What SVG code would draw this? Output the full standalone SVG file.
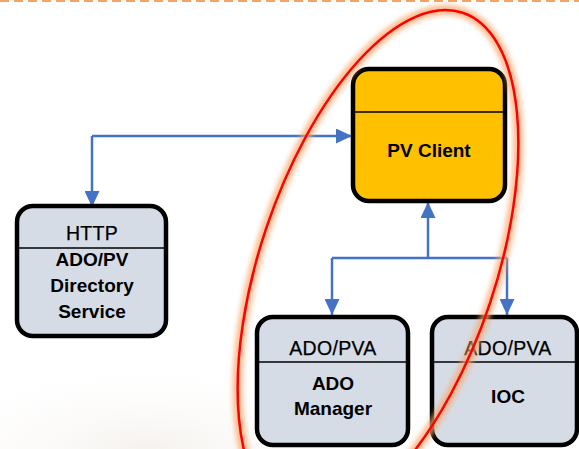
<svg xmlns="http://www.w3.org/2000/svg" width="579" height="449" viewBox="0 0 579 449">
  <style>
    .box { stroke: #000; stroke-width: 4.5; }
    .gray { fill: #D6DCE5; }
    .gold { fill: #FFC000; }
    .div { stroke: #000; stroke-width: 1.6; }
    .t { font-family: "Liberation Sans", Arial, sans-serif; font-size: 19.5px; fill: #000; text-anchor: middle; letter-spacing: 0.3px; stroke: #000; stroke-width: 0.25; }
    .b { font-family: "Liberation Sans", Arial, sans-serif; font-size: 19px; font-weight: bold; fill: #000; text-anchor: middle; }
    .conn { fill: none; stroke: #4472C4; stroke-width: 2.5; }
  </style>
  <defs>
    <marker id="arr" markerUnits="userSpaceOnUse" markerWidth="16" markerHeight="15" refX="16" refY="7.5" orient="auto">
      <path d="M0,0 L16,7.5 L0,15 z" fill="#4472C4"/>
    </marker>
    <filter id="glow" x="-20%" y="-20%" width="140%" height="140%">
      <feGaussianBlur stdDeviation="2.5"/>
    </filter>
    <radialGradient id="bg" cx="0.35" cy="1" r="0.6">
      <stop offset="0" stop-color="#EFE9E2"/>
      <stop offset="1" stop-color="#FFFFFF" stop-opacity="0"/>
    </radialGradient>
  </defs>
  <rect width="579" height="449" fill="#FFFFFF"/>
  <rect x="0" y="300" width="420" height="149" fill="url(#bg)" opacity="0.6"/>
  <line x1="0" y1="1" x2="579" y2="1" stroke="#F4A460" stroke-width="2" stroke-dasharray="9 5"/>

  <g id="connectors">
    <path class="conn" d="M92,136 L352,136" marker-end="url(#arr)"/>
    <path class="conn" d="M92,136 L92,207" marker-end="url(#arr)"/>
    <path class="conn" d="M428,258 L428,202" marker-end="url(#arr)"/>
    <path class="conn" d="M332,258 L507,258"/>
    <path class="conn" d="M332,258 L332,315" marker-end="url(#arr)"/>
    <path class="conn" d="M507,258 L507,315" marker-end="url(#arr)"/>
  </g>

  <g id="pv-client">
    <rect class="box gold" x="353" y="69" width="152" height="132" rx="16"/>
    <line class="div" x1="353" y1="112" x2="505" y2="112"/>
    <text class="b" x="429" y="157">PV Client</text>
  </g>

  <g id="directory-service">
    <rect class="box gray" x="17" y="206" width="149" height="130" rx="16"/>
    <line class="div" x1="17" y1="248" x2="166" y2="248"/>
    <text class="t" x="92" y="240">HTTP</text>
    <text class="b" x="92" y="266">ADO/PV</text>
    <text class="b" x="92" y="292">Directory</text>
    <text class="b" x="92" y="318">Service</text>
  </g>

  <g id="ado-manager">
    <rect class="box gray" x="257" y="317" width="151" height="128" rx="16"/>
    <line class="div" x1="257" y1="362" x2="408" y2="362"/>
    <text class="t" x="333" y="355">ADO/PVA</text>
    <text class="b" x="333" y="390">ADO</text>
    <text class="b" x="333" y="415">Manager</text>
  </g>

  <g id="ioc">
    <rect class="box gray" x="432" y="317" width="145" height="128" rx="16"/>
    <line class="div" x1="432" y1="362" x2="577" y2="362"/>
    <text class="t" x="508" y="355">ADO/PVA</text>
    <text class="b" x="508" y="403">IOC</text>
  </g>

  <g id="highlight">
    <ellipse cx="378" cy="266" rx="118" ry="267" transform="rotate(18.5 378 266)" fill="none" stroke="#F7A66B" stroke-width="10" stroke-opacity="0.75" filter="url(#glow)"/>
    <ellipse cx="378" cy="266" rx="118" ry="267" transform="rotate(18.5 378 266)" fill="none" stroke="#FF0000" stroke-width="2.5"/>
  </g>
</svg>
